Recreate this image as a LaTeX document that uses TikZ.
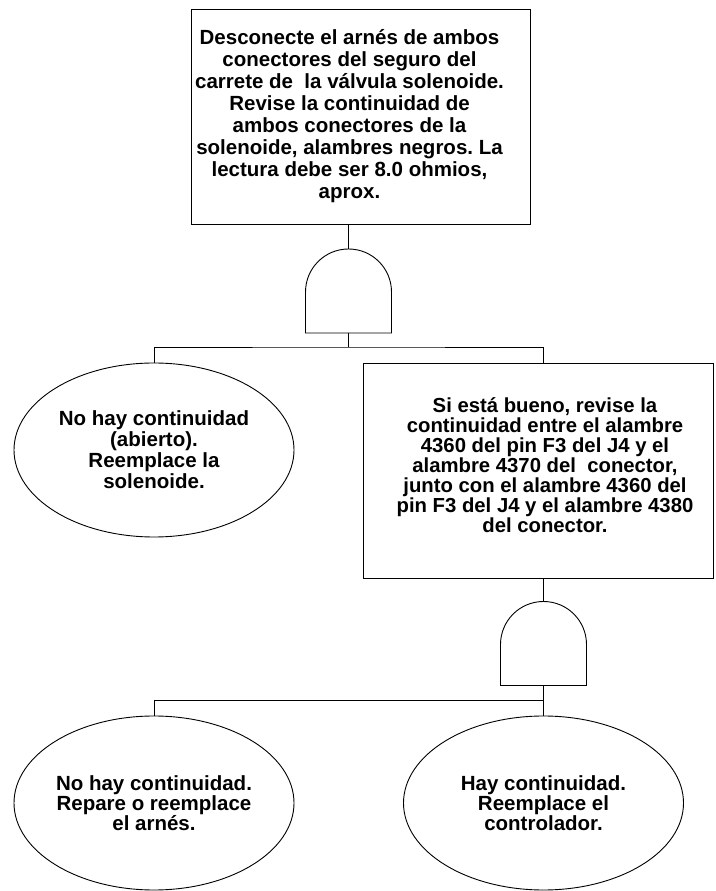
\documentclass[tikz,border=0pt]{standalone}
\usepackage{fontspec}
\setmainfont{Liberation Sans}
\usetikzlibrary{shapes.geometric,calc}
\frenchspacing

\tikzset{
    compuerta/.pic={
        \draw (-43,0) -- (-43,41) arc[start angle=180, end angle=0, radius=43] -- (43,0) -- cycle;
        \coordinate (-top) at (0,84);
        \coordinate (-base) at (0,0);
    }
}

\begin{document}
\begin{tikzpicture}[x=1pt, y=1pt, line width=0.9pt,
    caja/.style={draw, inner sep=0pt, minimum width=#1, minimum height=215pt},
    elipse/.style={draw, ellipse, align=center, inner sep=0pt, minimum width=280pt, minimum height=174pt},
    texto/.style={align=center, inner sep=0pt, font=\fontsize{20.5}{22}\selectfont\bfseries}
]
\useasboundingbox (0,0) rectangle (715,891);
\node[caja=339pt] (revisar) at (360.5,774.5) {};
\node[texto] (revisar-txt) at ([xshift=-11pt]revisar.center) {Desconecte el arnés de ambos\\conectores del seguro del\\carrete de\ \ la válvula solenoide.\\Revise la continuidad de\\ambos conectores de la\\solenoide, alambres negros. La\\lectura debe ser 8.0 ohmios,\\aprox.};
\pic (and1) at (348.5,558) {compuerta};
\coordinate (rama1) at (348.5,544);
\node[elipse, texto, font=\fontsize{20.5}{21}\selectfont\bfseries] (abierto) at (154,441) {No hay continuidad\\(abierto).\\Reemplace la\\solenoide.};
\node[caja=350pt] (verificar) at (538,420.5) {};
\node[texto, font=\fontsize{20.3}{20}\selectfont\bfseries] (verificar-txt) at ([xshift=7pt, yshift=5pt]verificar.center) {Si está bueno, revise la\\continuidad entre el alambre\\4360 del pin F3 del J4 y el\\alambre 4370 del\ \ conector,\\junto con el alambre 4360 del\\pin F3 del J4 y el alambre 4380\\del conector.};
\pic (and2) at (543.5,205.5) {compuerta};
\coordinate (rama2) at (543.5,191);
\node[elipse, texto, font=\fontsize{20.5}{20}\selectfont\bfseries] (arnes) at (154,88) {No hay continuidad.\\Repare o reemplace\\el arnés.};
\node[elipse, texto, font=\fontsize{20.5}{20}\selectfont\bfseries] (controlador) at (543.5,88) {Hay continuidad.\\Reemplace el\\controlador.};
\draw (revisar.south -| and1-top) -- (and1-top);
\draw (and1-base) -- (rama1);
\draw (abierto.north) |- (rama1) -| (verificar.north -| and2-top);
\draw (verificar.south -| and2-top) -- (and2-top);
\draw (and2-base) -- (rama2);
\draw (arnes.north) |- (rama2) -- (controlador.north);
\end{tikzpicture}
\end{document}
